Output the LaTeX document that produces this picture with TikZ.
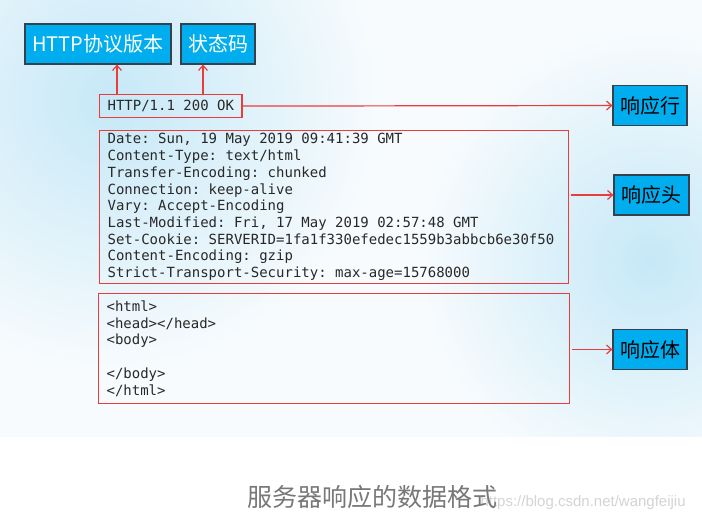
\documentclass[tikz,border=0pt]{standalone}
\usepackage{fontspec}
\setmonofont{DejaVu Sans Mono}
\setsansfont{Liberation Sans}
\newfontfamily\cjk{Noto Sans CJK SC}
\usepackage{xcolor}
\usetikzlibrary{arrows.meta}
\definecolor{boxblue}{RGB}{0,174,239}
\definecolor{tagedge}{RGB}{55,65,75}
\definecolor{linered}{RGB}{235,60,60}
\definecolor{codegray}{RGB}{40,40,40}
\definecolor{captiongray}{RGB}{120,120,120}
\definecolor{markgray}{RGB}{212,212,212}
\definecolor{bgbase}{RGB}{247,251,253}
\definecolor{bgglow}{RGB}{198,232,247}
% fixed width spaces for the code lines
\newcommand\codefont{\ttfamily\fontsize{14}{16.7}\selectfont}
\newcommand\codespaces{\spaceskip=0.602em\xspaceskip=0.602em\relax}

\begin{document}
\begin{tikzpicture}[x=1pt,y=-1pt,>={Straight Barb[length=5pt,width=9pt]},
    tag node/.style={draw=tagedge,line width=1.2pt,fill=boxblue,inner sep=0pt,
      minimum height=40pt,font=\cjk\fontsize{20}{20}\selectfont},
    code node/.style={draw=linered,line width=1.2pt,inner xsep=8pt,inner ysep=0pt,
      anchor=north west,align=left,text=codegray,font=\codefont,
      execute at begin node=\codespaces},
    red arrow/.style={->,draw=linered,line width=1.2pt}]
    \useasboundingbox (0,0) rectangle (702,521);
    \fill[white] (0,0) rectangle (702,521);
    \fill[bgbase] (0,0) rectangle (702,437);
    \begin{scope}
      \clip (0,0) rectangle (702,437);
      \shade[inner color=bgglow,outer color=bgbase] (110,100) circle (270pt);
      \shade[inner color=bgglow,outer color=bgbase] (650,260) circle (230pt);
    \end{scope}
    \node[tag node,minimum width=146pt,text=white] (proto) at (98,44) {HTTP协议版本};
    \node[tag node,minimum width=74pt,text=white] (status) at (218,44) {状态码};
    \node[tag node,minimum width=74pt] (rowtag) at (650,105.5) {响应行};
    \node[tag node,minimum width=75pt] (headtag) at (651.5,195) {响应头};
    \node[tag node,minimum width=74pt] (bodytag) at (650,349.5) {响应体};
    \node[code node,minimum height=23pt] (line) at (99,94) {HTTP/1.1 200 OK};
    \node[code node,text width=453pt,minimum height=153pt] (header) at (99,130) {%
      Date: Sun, 19 May 2019 09:41:39 GMT\\
      Content-Type: text/html\\
      Transfer-Encoding: chunked\\
      Connection: keep-alive\\
      Vary: Accept-Encoding\\
      Last-Modified: Fri, 17 May 2019 02:57:48 GMT\\
      Set-Cookie: SERVERID=1fa1f330efedec1559b3abbcb6e30f50\\
      Content-Encoding: gzip\\
      Strict-Transport-Security: max-age=15768000};
    \node[code node,text width=455pt,minimum height=110pt] (body) at (98,293) {%
      <html>\\
      <head></head>\\
      <body>\\[16.7pt]
      </body>\\
      </html>};
    \draw[red arrow] ([xshift=18pt]line.north west) -- ([xshift=18pt]line.north west |- proto.south);
    \draw[red arrow] ([xshift=104pt]line.north west) -- ([xshift=104pt]line.north west |- status.south);
    \draw[red arrow] (line.east) -- (rowtag.west);
    \draw[red arrow,shorten <=2pt] (header.east |- headtag.west) -- (headtag.west);
    \draw[red arrow,shorten <=2pt] (body.east |- bodytag.west) -- (bodytag.west);
    \node[text=markgray,anchor=west,font=\sffamily\fontsize{15}{15}\selectfont] (mark) at (477,503) {https://blog.csdn.net/wangfeijiu};
    \node[text=captiongray,font=\cjk\fontsize{25}{25}\selectfont] (caption) at (372,497) {服务器响应的数据格式};
  \end{tikzpicture}
\end{document}
